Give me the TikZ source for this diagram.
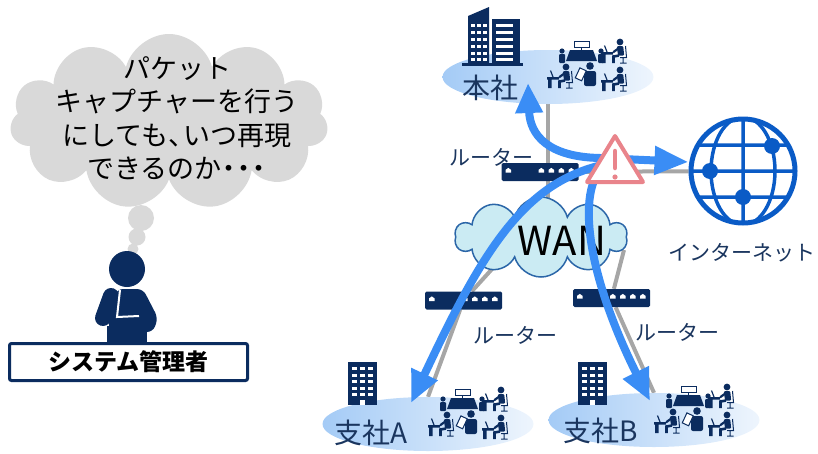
\documentclass[tikz,border=0pt]{standalone}
\usepackage{fontspec}
\setmainfont{Noto Sans CJK JP}
\usetikzlibrary{arrows.meta}
\usetikzlibrary{calc}
\usetikzlibrary{backgrounds}
\usetikzlibrary{shapes.geometric}
\usetikzlibrary{shapes.symbols}

\definecolor{navyicon}{HTML}{0B2C5F}
\definecolor{navytext}{HTML}{1A355E}
\definecolor{flowblue}{HTML}{3A8DF5}
\definecolor{wiregray}{HTML}{A6A6A6}
\definecolor{globeblue}{HTML}{0A5BC6}
\definecolor{wanfill}{HTML}{CBEBF3}
\definecolor{wanline}{HTML}{2B66A8}
\definecolor{alertred}{HTML}{E9848B}
\definecolor{thinkgray}{HTML}{D9D9D9}
\definecolor{sitedark}{HTML}{A4CBF6}
\definecolor{sitelight}{HTML}{EEF5FD}

% narrow punctuation in the thought text
\newcommand{\halfmark}[2][c]{\makebox[0.55em][#1]{#2}}

\tikzset{
  wire/.style={draw=wiregray, line width=4pt},
  flow/.style={draw=flowblue, line width=8pt, -{Triangle[width=27pt,length=32pt]}},
  site/.style={ellipse, minimum width=211pt, minimum height=54pt, inner sep=0pt,
    left color=sitedark, right color=sitelight},
  router/.style={fill=navyicon, rounded corners=1.5pt, minimum width=77pt,
    minimum height=18pt, inner sep=0pt},
  lbl/.style={text=navytext, inner sep=0pt, font=\fontsize{21}{21}\selectfont},
  sitelbl/.style={text=navytext, inner sep=0pt, font=\fontsize{28}{28}\selectfont},
  % one port on a router
  port/.pic={
    \fill[white] (-2.8,2) -- (-2.8,-0.6) -- (0,-2.6) -- (2.8,-0.6) -- (2.8,2) -- cycle;
  },
  % somebody at a desk with a laptop
  worker/.pic={
    \fill[navyicon] (0,0) circle (3.4);
    \fill[navyicon, rounded corners=1] (-3.2,4.2) -- (3.2,4.2) -- (4.2,13.5) -- (-2,13.5) -- cycle;
    \draw[navyicon, line width=2.2, line cap=round] (-1,6) -- (-6.5,10);
    \draw[navyicon, line width=2.6] (-1,13.5) -- (-6.5,14.5) -- (-6.5,21);
    \draw[navyicon, line width=1] (5.5,4) -- (6.5,15.5) -- (0,15.5) (3,15.5) -- (3,21) (0,21) -- (6.5,21);
    \fill[navyicon] (-19,10) rectangle (-7,12.5) (-18,12.5) rectangle (-14.5,21);
    \draw[navyicon, line width=1.2] (-13,10) -- (-15.5,3.5);
  },
  % meeting table and desks
  office/.pic={
    \fill[navyicon] (22,12) -- (45,12) -- (49,23) -- (18,23) -- cycle;
    \draw[navyicon, fill=white, line width=0.8] (26,3) rectangle (41,9);
    \draw[navyicon, line width=0.8] (33.5,9) -- (33.5,12);
    \fill[navyicon] (14,13) circle (2.6) (53,13) circle (2.6);
    \fill[navyicon, rounded corners=1] (11,16) rectangle (17,25) (50,16) rectangle (56,25);
    \pic at (72,4) {worker};
    \pic at (18,29) {worker};
    \pic at (72,32) {worker};
    \fill[navyicon] (42,28) circle (3.8);
    \fill[navyicon, rounded corners=2] (36,33) rectangle (48,48);
    \draw[navyicon, fill=white, line width=1, rotate around={-25:(33,37)}] (29,31) rectangle (36,42);
  },
  % small branch building
  tower/.pic={
    \fill[navyicon] (0,0) rectangle (29,43);
    \foreach \row in {0,...,4}
      \foreach \col in {0,1,2}
        \fill[white] (4+\col*8,5+\row*6.5) rectangle ++(5,3);
    \fill[white] (12,38) rectangle (17,43);
  },
}

\begin{document}
\begin{tikzpicture}[x=1pt,y=-1pt]
	\useasboundingbox (0,0) rectangle (818,453);

	% thought cloud
	\node[cloud, cloud puffs=11, cloud ignores aspect, minimum width=318pt,
	  minimum height=176pt, fill=thinkgray] (think) at (169,122) {};
	\fill[thinkgray] (141,218) circle (13) (137,237) circle (8.5) (133,249) circle (5.5);
	\node[align=center, inner sep=0pt, font=\fontsize{27}{33.5}\selectfont] (thinktext) at (177,118)
	  {パケット\\キャプチャーを行う\\にしても\halfmark[l]{、}いつ再現\\できるのか\halfmark{・}\halfmark{・}\halfmark{・}};

	% administrator
	\fill[navyicon] (127,269) circle (18);
	\fill[navyicon, rounded corners=6] (117,289) -- (143,289) -- (158,318) -- (153,332)
	  -- (110,332) -- (108,318) -- cycle;
	\fill[navyicon] (107,326) rectangle (147,343);
	\draw[navyicon, line width=16, line cap=round] (111,296) -- (103,318);
	\draw[white, line width=2] (120,290) -- (117,317) -- (139,316);
	\node[draw=navyicon, line width=3pt, fill=white, rounded corners=2pt, minimum width=238pt,
	  minimum height=37pt, inner sep=0pt, font=\fontsize{23}{23}\selectfont\bfseries]
	  (admin) at (128.5,362) {システム管理者};

	% sites
	\node[site] (hq) at (548,77) {};
	\node[site] (brA) at (428,424) {};
	\node[site] (brB) at (654,420) {};

	% head office towers
	\fill[navyicon] (468,64) -- (468,16) -- (489,7) -- (489,64) -- cycle;
	\fill[navyicon] (492,19) rectangle (520,64);
	\fill[navyicon] (462,63) rectangle (523,66);
	\foreach \yy in {24,31,38,45,52,58} {
	  \foreach \xx in {471,477,483}
	    \fill[white] (\xx,\yy) rectangle ++(4,2.5);
	  \fill[white] (496,\yy) rectangle ++(17,2.5);
	}
	\pic at (348,362) {tower};
	\pic at (578,362) {tower};

	\pic at (548,38) {office};
	\pic at (429,386) {office};
	\pic at (655,383) {office};

	\node[sitelbl] (hqlabel) at (490,88) {本社};
	\node[sitelbl] (brAlabel) at (371,433) {支社A};
	\node[sitelbl] (brBlabel) at (601,431) {支社B};

	% WAN and routers
	\node[cloud, cloud puffs=10, cloud ignores aspect, minimum width=172pt, minimum height=80pt,
	  fill=wanfill, draw=wanline, line width=1.5pt] (wan) at (541,237) {};
	\node[inner sep=0pt, font=\fontsize{40}{40}\selectfont] (wantext) at (562,241) {WAN};

	\node[router] (rtop) at (540,172) {};
	\node[router] (rleft) at (463.5,300.5) {};
	\node[router] (rright) at (611.5,298) {};
	\foreach \r in {rtop,rleft,rright}
	  \foreach \dx in {7,40,50,60,70}
	    \pic at ($(\r.west)+(\dx,-1.5)$) {port};

	\node[lbl] (rtoplabel) at (491,157) {ルーター};
	\node[lbl] (rleftlabel) at (515,335) {ルーター};
	\node[lbl] (rrightlabel) at (677,332) {ルーター};

	% internet
	\node[circle, draw=globeblue, line width=5pt, minimum size=104pt, inner sep=0pt] (net) at (743,171) {};
	\begin{scope}
	  \clip (net.center) circle (52);
	  \draw[globeblue, line width=3.5pt] (net.north) -- (net.south) (net.center) ellipse (32 and 54)
	    (688,145) -- (798,145) (688,171) -- (798,171) (688,197) -- (798,197);
	\end{scope}
	\fill[globeblue] (710,171) circle (8) (772,146) circle (8) (743,197) circle (8);
	\node[lbl] (netlabel) at (742,253) {インターネット};

	% cabling
	\coordinate (wanA) at (502,258);
	\coordinate (wanB) at (624,250);
	\begin{scope}[on background layer]
	  \draw[wire] (hq) -- (hq |- wan.center);
	  \draw[wire] (rtop) -- (net);
	  \draw[wire] (wanA) -- (rleft) -- (brA.north);
	  \draw[wire] (wanB) -- (rright) -- (brB.north);
	\end{scope}

	% traffic
	\coordinate (hub) at (612,163);
	\coordinate (hqin) at (528,83);
	\coordinate (netin) at ($(net.west)+(0,-9)$);
	\coordinate (brAin) at (411,403);
	\coordinate (brBin) at (650,401);
	\draw[flow] (hub) .. controls (525,178) and (483,250) .. (brAin);
	\draw[flow] (hub) .. controls (580,170) and (575,250) .. (brBin);
	\draw[flow, {Triangle[width=26pt,length=30pt]}-{Triangle[width=27pt,length=34pt]}]
	  (hqin) .. controls (530,135) and (548,157) .. (600,158) -- (netin);

	% warning mark
	\fill[white, draw=alertred, line width=4pt, line join=round] (615,136) -- (643,182) -- (587,182) -- cycle;
	\draw[alertred, line width=4.5pt, line cap=round] (615,151) -- (615,168);
	\fill[alertred] (615,177) circle (2.6);
\end{tikzpicture}
\end{document}
